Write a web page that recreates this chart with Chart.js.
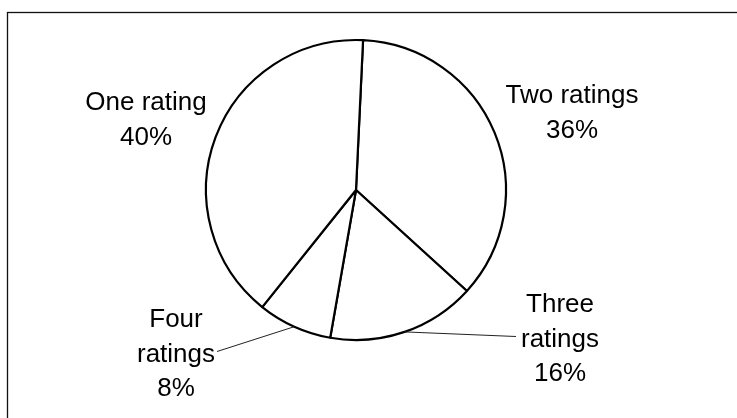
<!DOCTYPE html>
<html>
<head>
<meta charset="utf-8">
<script src="https://cdn.jsdelivr.net/npm/chart.js@4/dist/chart.umd.min.js"></script>
<style>
  html, body { margin: 0; padding: 0; background: #fff; }
  #wrap { width: 737px; height: 418px; position: relative; }
</style>
</head>
<body>
<div id="wrap"><canvas id="c" width="737" height="418"></canvas></div>
<script>
// ---- data ----
const categories = ["Two ratings", "Three ratings", "Four ratings", "One rating"];
const labelLines = [["Two ratings"], ["Three", "ratings"], ["Four", "ratings"], ["One rating"]];
const percents = [36, 16, 8, 40];

// ---- label layout (relative to pie centre; first-line baseline) ----
const labelLayout = [
  { dx: 216, dy: -87, leader: null },
  { dx: 204, dy: 122, leader: "left" },
  { dx: -180, dy: 137, leader: "right" },
  { dx: -210, dy: -80, leader: null }
];
const FONT_SIZE = 26;
const LINE_H = 34.5;

const framePlugin = {
  id: "frame",
  beforeDraw(chart) {
    const ctx = chart.ctx;
    ctx.save();
    ctx.fillStyle = "#fff";
    ctx.fillRect(0, 0, chart.width, chart.height);
    ctx.strokeStyle = "#111";
    ctx.lineWidth = 1.3;
    ctx.strokeRect(7.5, 12.5, chart.width + 50, chart.height + 50);
    ctx.restore();
  }
};

const labelPlugin = {
  id: "pieLabels",
  afterDatasetsDraw(chart) {
    const ctx = chart.ctx;
    const meta = chart.getDatasetMeta(0);
    ctx.save();
    ctx.font = FONT_SIZE + "px 'Liberation Sans', Arial, sans-serif";
    ctx.fillStyle = "#000";
    ctx.textAlign = "center";
    ctx.textBaseline = "alphabetic";
    meta.data.forEach((arc, i) => {
      const p = arc.getProps(["x", "y", "startAngle", "endAngle", "outerRadius"], true);
      const lay = labelLayout[i];
      const cx = p.x + lay.dx;
      const by = p.y + lay.dy;
      const lines = labelLines[i].concat([percents[i] + "%"]);
      lines.forEach((t, k) => ctx.fillText(t, cx, by + k * LINE_H));
      if (lay.leader) {
        const mid = (p.startAngle + p.endAngle) / 2;
        const ax = p.x + Math.cos(mid) * p.outerRadius;
        const ay = p.y + Math.sin(mid) * p.outerRadius;
        const w = ctx.measureText(labelLines[i][1]).width;
        const ly = by + LINE_H - 10;
        const lx = lay.leader === "left" ? cx - w / 2 - 5 : cx + w / 2 + 2;
        ctx.beginPath();
        ctx.strokeStyle = "#222";
        ctx.lineWidth = 1;
        ctx.moveTo(lx, ly);
        ctx.lineTo(ax, ay);
        ctx.stroke();
      }
    });
    ctx.restore();
  }
};

new Chart(document.getElementById("c"), {
  type: "pie",
  data: {
    labels: categories,
    datasets: [{
      data: percents,
      backgroundColor: "#ffffff",
      borderColor: "#000000",
      borderWidth: 2.2,
      radius: 150
    }]
  },
  options: {
    responsive: false,
    animation: false,
    rotation: 2.7,
    layout: { padding: { left: 100, right: 125, top: 40, bottom: 78 } },
    plugins: { legend: { display: false }, tooltip: { enabled: false } }
  },
  plugins: [framePlugin, labelPlugin]
});
</script>
</body>
</html>
